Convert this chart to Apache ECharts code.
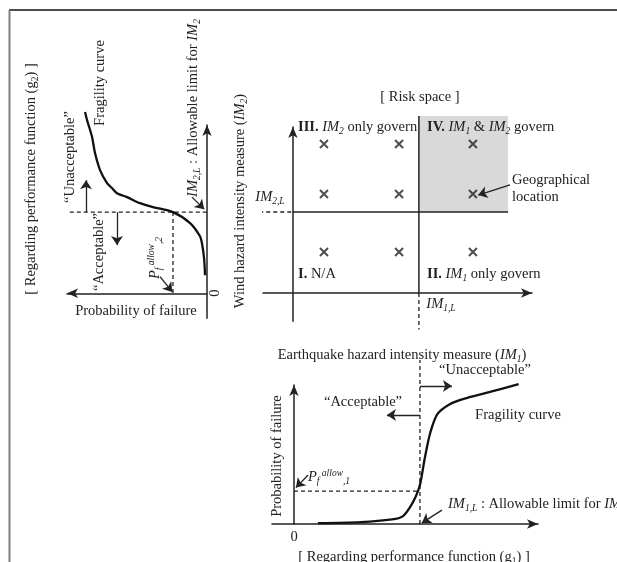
<!DOCTYPE html>
<html><head><meta charset="utf-8">
<script src="https://cdn.jsdelivr.net/npm/echarts@6/dist/echarts.min.js"></script>
<style>html,body{margin:0;padding:0;background:#fff}#c{width:617px;height:562px}</style>
</head><body><div id="c"></div>
<script>
// ---------------- data ----------------
const IM1_L = 0.527;          // allowable limit for IM1 (earthquake)
const IM2_L = 0.488;          // allowable limit for IM2 (wind)
const PF_ALLOW_1 = 0.237;     // allowable probability of failure, g1
const PF_ALLOW_2 = 0.243;     // allowable probability of failure, g2
const siteIM1 = [0.13, 0.444, 0.753];   // geographical locations (IM1)
const siteIM2 = [0.898, 0.596, 0.247];  // geographical locations (IM2)
const zoneIVmax = [0.9, 1.066];         // upper corner of zone IV (IM1, IM2)
// fragility curve for g2 : [probability of failure, IM2]
const fragility2 = [[0.014,0.108],[0.021,0.211],[0.036,0.301],[0.05,0.343],[0.121,0.422],
  [0.243,0.488],[0.386,0.518],[0.479,0.542],[0.571,0.578],[0.643,0.602],[0.679,0.633],
  [0.714,0.663],[0.764,0.741],[0.8,0.843],[0.821,0.94],[0.857,1.042],[0.871,1.09]];
// fragility curve for g1 : [IM1, probability of failure]
const fragility1 = [[0.10,0.007],[0.28,0.014],[0.41,0.033],[0.455,0.055],[0.485,0.12],
  [0.51,0.2],[0.527,0.28],[0.548,0.48],[0.57,0.655],[0.60,0.79],[0.65,0.86],[0.71,0.9],
  [0.82,0.95],[0.94,1.007]];

// ---------------- styles ----------------
const F = 'Liberation Serif';
const C = '#222';
const FS = 14.5;
const LH = 18;
const rich = {
  n:   {fontFamily:F, fontSize:FS, color:C, lineHeight:LH},
  i:   {fontFamily:F, fontSize:FS, color:C, lineHeight:LH, fontStyle:'italic'},
  b:   {fontFamily:F, fontSize:FS, color:C, lineHeight:LH, fontWeight:'bold'},
  sub: {fontFamily:F, fontSize:9.5, color:C, lineHeight:LH, verticalAlign:'bottom'},
  isub:{fontFamily:F, fontSize:9.5, color:C, lineHeight:LH, verticalAlign:'bottom', fontStyle:'italic'},
  sup: {fontFamily:F, fontSize:9.5, color:C, lineHeight:LH, verticalAlign:'top', fontStyle:'italic'}
};
function txt(x, y, text, opt) {
  opt = opt || {};
  return {type:'text', x:x, y:y, rotation: opt.rot ? Math.PI/2 : 0, z:100, silent:true,
    style:{text:text, x:0, y:0, align:opt.align || 'center', verticalAlign:'middle', rich:rich,
      font:FS + 'px ' + F, fill:C}};
}
function ax(gridIndex, min, max, extra, sym) {
  return Object.assign({type:'value', gridIndex:gridIndex, min:min, max:max,
    axisLine:{onZero:true, symbol:sym || ['none','arrow'], symbolSize:[7,11], lineStyle:{color:C, width:1.5}},
    axisTick:{show:false}, axisLabel:{show:false}, splitLine:{show:false}}, extra || {});
}
function seg(g, data, dashed, w) {
  return {type:'line', xAxisIndex:g, yAxisIndex:g, data:data, symbol:'none', clip:false, silent:true,
    lineStyle:{color:C, width:w || 1.3, type: dashed ? [4,3] : 'solid'}, z:5};
}
function arrows(g, list) {
  return {type:'lines', coordinateSystem:'cartesian2d', xAxisIndex:g, yAxisIndex:g, clip:false, silent:true,
    symbol:['none','arrow'], symbolSize:[7,9], lineStyle:{color:C, width:1.3, opacity:1}, z:6,
    data:list.map(c => ({coords:c}))};
}

const sites = [];
siteIM1.forEach(x => siteIM2.forEach(y => sites.push([x, y])));

const option = {
  animation:false,
  backgroundColor:'#fff',
  grid:[
    {left:67, top:125, width:140, height:193.2},
    {left:263, top:127, width:269, height:194.2},
    {left:272, top:385, width:266, height:139}
  ],
  xAxis:[
    ax(0, 0, 1, {inverse:true}, ['arrow','none']),
    ax(1, -0.125, 1),
    ax(2, -0.092, 1.021)
  ],
  yAxis:[
    ax(0, -0.15, 1.012),
    ax(1, -0.17, 1),
    ax(2, 0, 1)
  ],
  series:[
    // ---- left panel (g2) ----
    {type:'line', xAxisIndex:0, yAxisIndex:0, data:fragility2, smooth:0.3, symbol:'none', clip:false,
      lineStyle:{color:'#111', width:2.3}, z:7},
    seg(0, [[0.98, IM2_L], [-0.115, IM2_L]], true),
    seg(0, [[PF_ALLOW_2, IM2_L], [PF_ALLOW_2, 0]], true),
    arrows(0, [
      [[0.864, IM2_L], [0.864, 0.68]],
      [[0.643, IM2_L], [0.643, 0.29]],
      [[0.336, 0.10], [PF_ALLOW_2 + 0.005, 0.008]],
      [[0.107, 0.578], [0.02, 0.506]]
    ]),
    // ---- centre panel (risk space) ----
    {type:'custom', xAxisIndex:1, yAxisIndex:1, clip:false, silent:true, z:1,
      data:[[IM1_L, IM2_L, zoneIVmax[0], zoneIVmax[1]]],
      encode:{x:[0,2], y:[1,3]},
      renderItem:function (params, api) {
        const p1 = api.coord([api.value(0), api.value(1)]);
        const p2 = api.coord([api.value(2), api.value(3)]);
        return {type:'rect', shape:{x:p1[0], y:p2[1], width:p2[0]-p1[0], height:p1[1]-p2[1]},
          style:{fill:'#d9d9d9'}};
      }},
    {type:'scatter', xAxisIndex:1, yAxisIndex:1, data:sites, symbol:'path://M0,0L10,10M10,0L0,10',
      symbolSize:8, clip:false, silent:true, itemStyle:{color:'none', borderColor:C, borderWidth:2}, z:6},
    seg(1, [[0, IM2_L], [zoneIVmax[0], IM2_L]], false, 1.5),
    seg(1, [[-0.17, IM2_L], [0, IM2_L]], true),
    seg(1, [[IM1_L, 0], [IM1_L, zoneIVmax[1]]], false, 1.5),
    seg(1, [[IM1_L, 0], [IM1_L, -0.22]], true),
    arrows(1, [[[0.908, 0.651], [0.775, 0.59]]]),
    // ---- bottom panel (g1) ----
    {type:'line', xAxisIndex:2, yAxisIndex:2, data:fragility1, smooth:0.3, symbol:'none', clip:false,
      lineStyle:{color:'#111', width:2.3}, z:7},
    seg(2, [[0, PF_ALLOW_1], [IM1_L, PF_ALLOW_1]], true),
    seg(2, [[IM1_L, 0], [IM1_L, 1.18]], true),
    arrows(2, [
      [[IM1_L, 0.993], [0.661, 0.993]],
      [[IM1_L, 0.784], [0.389, 0.784]],
      [[0.059, 0.353], [0.008, 0.262]],
      [[0.619, 0.10], [IM1_L + 0.008, 0.008]]
    ])
  ],
  graphic:[
    {type:'line', shape:{x1:9, y1:10, x2:617, y2:10}, style:{stroke:'#111', lineWidth:1.5}, silent:true},
    {type:'line', shape:{x1:9.5, y1:10, x2:9.5, y2:562}, style:{stroke:'#808080', lineWidth:2}, silent:true},
    // left panel
    txt(31, 179, '{n|[ Regarding performance function (g}{sub|2}{n|) ]}', {rot:true}),
    txt(70, 157, '{n|“Unacceptable”}', {rot:true}),
    txt(100, 83, '{n|Fragility curve}', {rot:true}),
    txt(99, 252, '{n|“Acceptable”}', {rot:true}),
    txt(155, 258, '{i|P}{isub|f}{sup| allow}{isub|,2}', {rot:true}),
    txt(193, 108, '{i|IM}{isub|2,L}{n| : Allowable limit for }{i|IM}{isub|2}', {rot:true}),
    txt(136, 311, '{n|Probability of failure}'),
    txt(215, 293, '{n|0}', {rot:true}),
    // centre panel
    txt(420, 97, '{n|[ Risk space ]}'),
    txt(240, 201, '{n|Wind hazard intensity measure (}{i|IM}{isub|2}{n|)}', {rot:true}),
    txt(270, 197, '{i|IM}{isub|2,L}'),
    txt(298, 127, '{b|III.} {i|IM}{isub|2}{n| only govern}', {align:'left'}),
    txt(427, 127, '{b|IV.} {i|IM}{isub|1}{n| & }{i|IM}{isub|2}{n| govern}', {align:'left'}),
    txt(298, 274, '{b|I.}{n| N/A}', {align:'left'}),
    txt(427, 274, '{b|II.} {i|IM}{isub|1}{n| only govern}', {align:'left'}),
    txt(512, 180, '{n|Geographical}', {align:'left'}),
    txt(512, 197, '{n|location}', {align:'left'}),
    txt(441, 304, '{i|IM}{isub|1,L}'),
    txt(402, 355, '{n|Earthquake hazard intensity measure (}{i|IM}{isub|1}{n|)}'),
    // bottom panel
    txt(485, 370, '{n|“Unacceptable”}'),
    txt(363, 402, '{n|“Acceptable”}'),
    txt(518, 415, '{n|Fragility curve}'),
    txt(308, 477, '{i|P}{isub|f}{sup| allow}{isub|,1}', {align:'left'}),
    txt(448, 504, '{i|IM}{isub|1,L}{n| : Allowable limit for }{i|IM}{isub|1}', {align:'left'}),
    txt(294, 537, '{n|0}'),
    txt(277, 456, '{n|Probability of failure}', {rot:true}),
    txt(414, 557, '{n|[ Regarding performance function (g}{sub|1}{n|) ]}')
  ]
};
const chart = echarts.init(document.getElementById('c'), null, {renderer:'canvas'});
chart.setOption(option);
</script></body></html>
